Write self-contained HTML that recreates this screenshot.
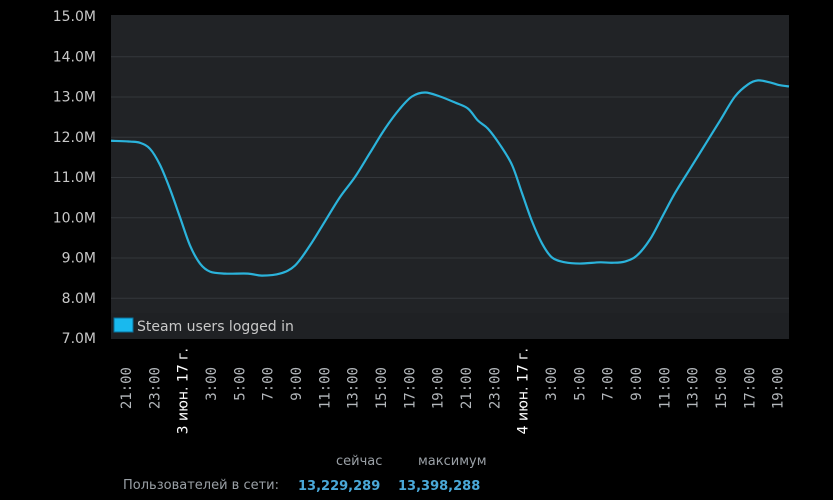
<!DOCTYPE html>
<html><head><meta charset="utf-8"><style>
html,body{margin:0;padding:0;background:#000;width:833px;height:500px;overflow:hidden}
svg{display:block}
</style></head><body>
<svg width="833" height="500" xmlns="http://www.w3.org/2000/svg">
<rect width="833" height="500" fill="#000"/>
<rect x="111" y="15" width="678" height="324" fill="#212326"/>
<g id="grid" stroke="#34373b" stroke-width="1"></g>
<g id="ylab" font-family="'DejaVu Sans',sans-serif" font-size="14" fill="#c8c8c8" text-anchor="end"></g>
<path id="line" fill="none" stroke="#2bb3db" stroke-width="2.2" stroke-linejoin="round"/>
<rect x="111" y="313" width="678" height="26" fill="#1f2124"/>
<rect x="114" y="318" width="19" height="14" fill="#19b9ee" stroke="#0b6f99"/>
<text x="137" y="331" font-family="'DejaVu Sans',sans-serif" font-size="14" fill="#c8c8c8">Steam users logged in</text>
<g id="xlab"></g>
<g font-family="'DejaVu Sans',sans-serif" font-size="13">
<text x="336" y="465" fill="#9aa0a6">сейчас</text>
<text x="418" y="465" fill="#9aa0a6">максимум</text>
<text x="123" y="489" fill="#9aa0a6">Пользователей в сети:</text>
<text x="298" y="490" fill="#4aa8d8" font-weight="bold" font-size="13">13,229,289</text>
<text x="398" y="490" fill="#4aa8d8" font-weight="bold" font-size="13">13,398,288</text>
</g>
</svg>
<script>
const NS="http://www.w3.org/2000/svg";
const Y=v=>16+(15-v)*40.25;
const g=document.getElementById('grid'),yl=document.getElementById('ylab');
for(let v=7;v<=15;v++){const y=Y(v);
 if(v>7&&v<15){const l=document.createElementNS(NS,'line');l.setAttribute('x1',111);l.setAttribute('x2',789);l.setAttribute('y1',y+.5);l.setAttribute('y2',y+.5);g.appendChild(l);}
 const t=document.createElementNS(NS,'text');t.setAttribute('x',96);t.setAttribute('y',y+5);t.textContent=v+'.0M';yl.appendChild(t);}
const pts=[[111,11.9],[130,11.88],[140,11.85],[150,11.7],[160,11.3],[170,10.7],[180,10.0],[190,9.3],[200,8.85],[210,8.65],[225,8.6],[248,8.6],[262,8.55],[280,8.6],[295,8.8],[310,9.3],[325,9.9],[340,10.5],[355,11.0],[370,11.6],[385,12.2],[400,12.7],[412,13.0],[425,13.1],[440,13.0],[455,12.85],[468,12.7],[478,12.4],[488,12.2],[500,11.8],[512,11.3],[522,10.6],[532,9.9],[542,9.35],[552,9.0],[565,8.88],[580,8.85],[600,8.88],[612,8.87],[625,8.9],[637,9.05],[650,9.45],[662,10.0],[675,10.6],[690,11.2],[705,11.8],[720,12.4],[735,13.0],[748,13.3],[758,13.4],[770,13.35],[780,13.28],[789,13.25]].map(p=>[p[0],Y(p[1])]);
let d='M'+pts[0][0]+','+pts[0][1];
for(let i=0;i<pts.length-1;i++){const p0=pts[Math.max(0,i-1)],p1=pts[i],p2=pts[i+1],p3=pts[Math.min(pts.length-1,i+2)];
 d+=' C'+(p1[0]+(p2[0]-p0[0])/6)+','+(p1[1]+(p2[1]-p0[1])/6)+' '+(p2[0]-(p3[0]-p1[0])/6)+','+(p2[1]-(p3[1]-p1[1])/6)+' '+p2[0]+','+p2[1];}
document.getElementById('line').setAttribute('d',d);
const xl=document.getElementById('xlab');
const hrs=[21,23,1,3,5,7,9,11,13,15,17,19,21,23,1,3,5,7,9,11,13,15,17,19];
hrs.forEach((h,k)=>{const x=126+k*28.33;const t=document.createElementNS(NS,'text');
 let date=(k==2||k==14);
 t.textContent=date?(k==2?'3 июн. 17 г.':'4 июн. 17 г.'):h+':00';
 const yy=date?348:367;
 t.setAttribute('transform','translate('+(x+5)+','+yy+') rotate(-90)');
 t.setAttribute('text-anchor','end');
 t.setAttribute('font-family',date?"'DejaVu Sans',sans-serif":"'DejaVu Sans Mono','Liberation Mono',monospace");
 t.setAttribute('font-size','14');
 t.setAttribute('fill',date?'#ffffff':'#b4b8bc');
 xl.appendChild(t);});
</script>
</body></html>
